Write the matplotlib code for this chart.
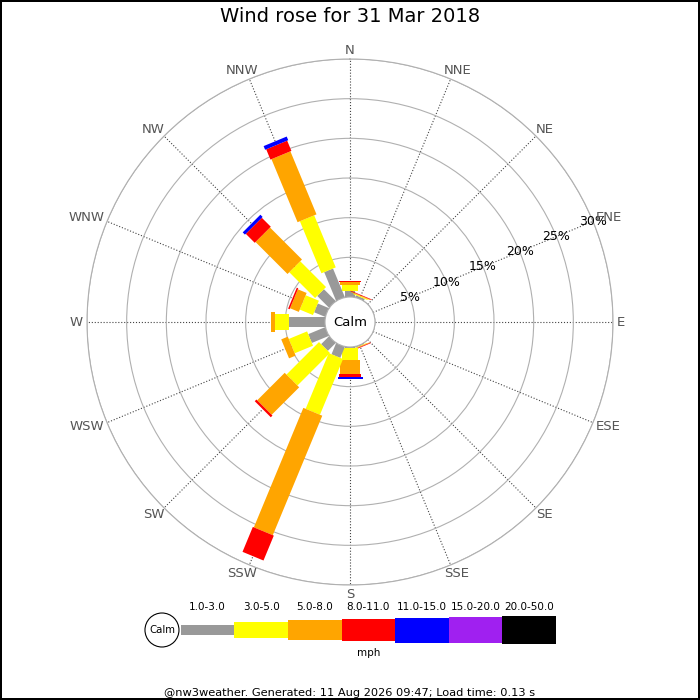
import numpy as np
import matplotlib
matplotlib.use('Agg')
import matplotlib.pyplot as plt
from matplotlib.patches import Polygon, Circle

# 16 compass points, clockwise from N
directions = ['N', 'NNE', 'NE', 'ENE', 'E', 'ESE', 'SE', 'SSE',
              'S', 'SSW', 'SW', 'WSW', 'W', 'WNW', 'NW', 'NNW']
speed_bins = ['1.0-3.0', '3.0-5.0', '5.0-8.0', '8.0-11.0',
              '11.0-15.0', '15.0-20.0', '20.0-50.0']

# % of the day in each direction, one list per speed bin (mph)
pct_1_3 = [0.80, 0.25, 0, 0, 0, 0, 0, 0.10, 0.15, 1.5, 1.4, 2.3, 4.6, 1.5, 2.1, 3.9]
pct_3_5 = [0.72, 0.12, 0, 0, 0, 0, 0, 0.06, 1.45, 7.6, 5.8, 2.5, 1.75, 1.8, 4.6, 7.1]
pct_5_8 = [0.34, 0.08, 0, 0, 0, 0, 0, 0.08, 1.77, 16.3, 4.9, 0.9, 0.48, 1.2, 5.7, 8.6]
pct_8_11 = [0.20, 0.08, 0, 0, 0, 0, 0, 0.08, 0.38, 3.4, 0.3, 0, 0, 0.2, 1.6, 1.4]
pct_11_15 = [0, 0, 0, 0, 0, 0, 0, 0, 0.23, 0, 0, 0, 0, 0, 0.4, 0.5]
pct_15_20 = [0] * 16
pct_20_50 = [0] * 16
series = [pct_1_3, pct_3_5, pct_5_8, pct_8_11, pct_11_15, pct_15_20, pct_20_50]

rings = [5, 10, 15, 20, 25, 30]

colours = ['#999999', '#ffff00', '#ffa500', '#ff0000', '#0000ff', '#a020f0', '#000000']
bar_px = [9.5, 15.5, 20.5, 22.7, 25, 26.7, 28.3]   # bar thickness in pixels

fig = plt.figure(figsize=(7, 7), dpi=100)
fig.patch.set_edgecolor('black')
fig.patch.set_linewidth(1.5)

rect = [87 / 700, 115 / 700, 526 / 700, 526 / 700]
rmax = rings[-1]
calm_r = 3.15          # radius of the calm circle in % units
R = rmax + calm_r

# polar axes: grid and labels
ax = fig.add_axes(rect, projection='polar')
ax.set_theta_zero_location('N')
ax.set_theta_direction(-1)
ax.set_ylim(0, rmax)
ax.set_rorigin(-calm_r)
ax.set_xticks(np.deg2rad(np.arange(16) * 22.5))
ax.set_xticklabels([])
ax.set_yticks(rings)
ax.set_yticklabels([])
ax.xaxis.grid(True, linestyle=':', color='#444444', linewidth=0.8)
ax.yaxis.grid(True, linestyle='-', color='#b0b0b0', linewidth=0.8)
ax.spines['polar'].set_color('#b0b0b0')
ax.spines['polar'].set_linewidth(0.8)
ax.spines['inner'].set_color('#b0b0b0')
for r in rings:
    ax.text(np.deg2rad(67.5), r, f'{r}%', ha='center', va='center', fontsize=9, zorder=5)

# cartesian overlay for the rectangular bars
ax2 = fig.add_axes(rect)
ax2.set_xlim(-R, R)
ax2.set_ylim(-R, R)
ax2.set_aspect('equal')
ax2.axis('off')
ax2.patch.set_alpha(0)

renderer = fig.canvas.get_renderer()
unit_px = 263 / R
lab_r = 267 / unit_px
for i, d in enumerate(directions):
    b = np.deg2rad(i * 22.5)
    u = np.array([np.sin(b), np.cos(b)])
    p = np.array([np.cos(b), -np.sin(b)])
    base = 0.0
    for k, s in enumerate(series):
        v = s[i]
        if v <= 0:
            continue
        r0 = calm_r + base - (0.5 if base == 0 else 0)
        r1 = calm_r + base + v
        hw = bar_px[k] / unit_px / 2
        pts = [r0 * u + hw * p, r1 * u + hw * p, r1 * u - hw * p, r0 * u - hw * p]
        ax2.add_patch(Polygon(pts, closed=True, facecolor=colours[k], edgecolor='none', zorder=2))
        base += v
    # compass label pushed outwards by half its own size
    t = ax2.text(0, 0, d, ha='center', va='center', color='#555555',
                 fontsize=9.5, clip_on=False)
    w = t.get_window_extent(renderer).width
    pos = lab_r * u + np.array([w / 2 * u[0], 5 * u[1]]) / unit_px
    t.set_position(pos)

ax2.add_patch(Circle((0, 0), calm_r, facecolor='white', edgecolor='#b0b0b0', linewidth=0.8, zorder=4))
ax2.text(0, 0, 'Calm', ha='center', va='center', fontsize=9.5, zorder=5)

# legend strip
cell_px = 53.6
lax = fig.add_axes([140 / 700, 35 / 700, 420 / 700, 70 / 700])
lax.set_xlim(-0.76, -0.76 + 420 / cell_px)
lax.set_ylim(-35 / cell_px, 35 / cell_px)
lax.axis('off')
heights = np.array(bar_px) / cell_px
lax.bar(np.arange(len(speed_bins)), heights, width=1, bottom=-heights / 2,
        align='edge', color=colours)
for k, lab in enumerate(speed_bins):
    lax.text(k + 0.5, 23 / cell_px, lab, ha='center', va='center', fontsize=7.5)
lax.add_patch(Circle((-0.35, 0), 17 / cell_px, facecolor='white', edgecolor='black', linewidth=0.8))
lax.text(-0.35, 0, 'Calm', ha='center', va='center', fontsize=7.3)
lax.text(3.5, -23 / cell_px, 'mph', ha='center', va='center', fontsize=7.5)
lax.set_aspect('equal')

fig.text(0.5, 1 - 17 / 700, 'Wind rose for 31 Mar 2018', ha='center', va='center', fontsize=14)
fig.text(0.5, 1 - 692.5 / 700, '@nw3weather. Generated: 11 Aug 2026 09:47; Load time: 0.13 s',
         ha='center', va='center', fontsize=8.2)

fig.savefig('out.png', dpi=100, edgecolor=fig.get_edgecolor())
